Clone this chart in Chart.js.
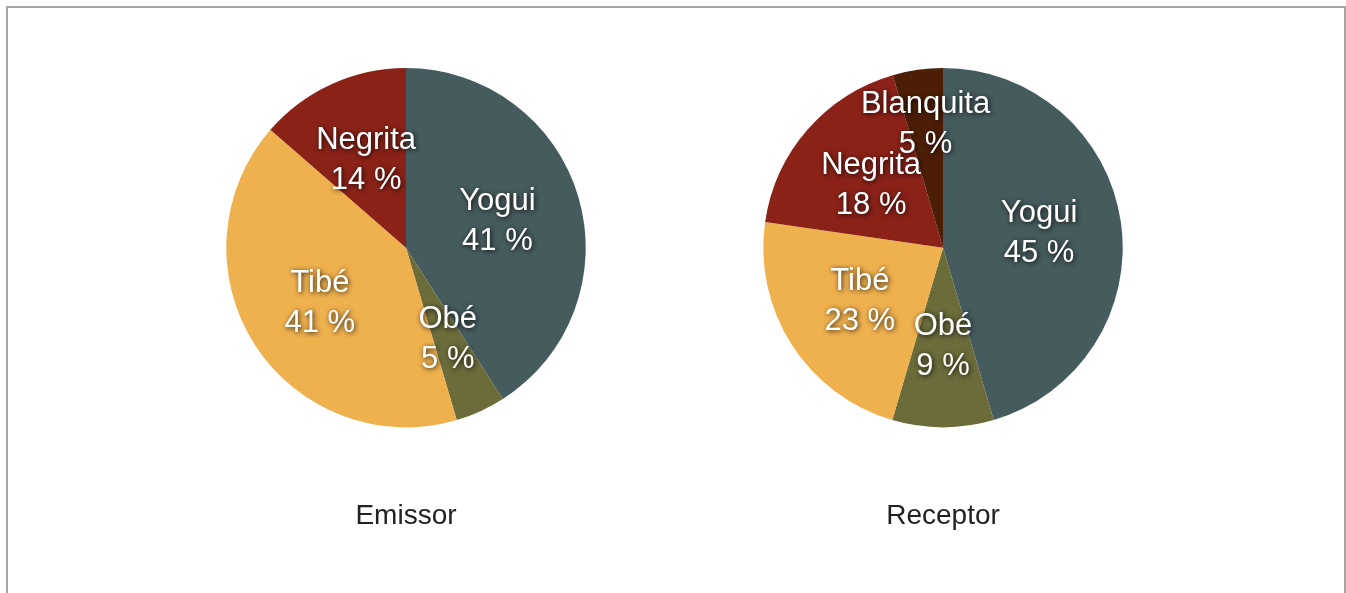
<!DOCTYPE html>
<html>
<head>
<meta charset="utf-8">
<script src="https://cdn.jsdelivr.net/npm/chart.js@4.4.1/dist/chart.umd.min.js"></script>
<style>
  html, body { margin: 0; padding: 0; background: #fff; overflow: hidden; }
  .frame {
    position: absolute; left: 6px; top: 6px; width: 1336px; height: 620px;
    border: 2px solid #a6a6a6; border-bottom: none; background: #fff;
  }
  .box { position: absolute; top: 48px; width: 400px; height: 512px; }
  #emissorBox { left: 206px; }
  #receptorBox { left: 743px; }
</style>
</head>
<body>
<div class="frame"></div>
<div class="box" id="emissorBox"><canvas id="emissor"></canvas></div>
<div class="box" id="receptorBox"><canvas id="receptor"></canvas></div>
<script>
// data (percent of total)
const categories = ['Yogui', 'Obé', 'Tibé', 'Negrita', 'Blanquita']
const emissorValues = [40.9, 4.5, 40.9, 13.6]
const receptorValues = [45.4, 9.1, 22.7, 18.2, 4.5]
const chartTitles = ['Emissor', 'Receptor']

const sliceColors = ['#465b5e', '#6b6c3a', '#efb04e', '#8a2218', '#4c1e06']
const FONT = '"Liberation Sans", Arial, Helvetica, sans-serif'

// draws "Name / NN %" inside every slice, white with a soft shadow
const sliceLabels = {
  id: 'sliceLabels',
  afterDatasetsDraw(chart, args, opts) {
    const ctx = chart.ctx
    const meta = chart.getDatasetMeta(0)
    const values = chart.data.datasets[0].data
    ctx.save()
    ctx.font = '31px ' + FONT
    ctx.fillStyle = '#fff'
    ctx.textAlign = 'center'
    ctx.textBaseline = 'middle'
    ctx.shadowColor = 'rgba(0,0,0,0.85)'
    ctx.shadowBlur = 5
    ctx.shadowOffsetX = 1
    ctx.shadowOffsetY = 1
    meta.data.forEach((arc, i) => {
      const p = arc.getProps(['x', 'y', 'startAngle', 'endAngle', 'outerRadius'], true)
      const mid = (p.startAngle + p.endAngle) / 2
      const f = (opts.dist && opts.dist[i]) || 0.55
      const x = p.x + Math.cos(mid) * p.outerRadius * f
      const y = p.y + Math.sin(mid) * p.outerRadius * f
      ctx.fillText(chart.data.labels[i], x, y - 20)
      ctx.fillText(Math.round(values[i]) + ' %', x, y + 20)
    })
    ctx.restore()
  }
}

function makePie(id, values, title, dist) {
  return new Chart(document.getElementById(id), {
    type: 'pie',
    data: {
      labels: categories.slice(0, values.length),
      datasets: [{
        data: values,
        backgroundColor: sliceColors.slice(0, values.length),
        borderWidth: 0
      }]
    },
    options: {
      responsive: true,
      maintainAspectRatio: false,
      animation: false,
      layout: { padding: { top: 20, bottom: 0, left: 0, right: 0 } },
      plugins: {
        legend: { display: false },
        tooltip: { enabled: false },
        title: {
          display: true,
          text: title,
          position: 'bottom',
          color: '#222',
          font: { family: FONT, size: 28, weight: 'normal', lineHeight: 1.2 },
          padding: { top: 72, bottom: 27 }
        },
        sliceLabels: { dist: dist }
      }
    },
    plugins: [sliceLabels]
  })
}

makePie('emissor', emissorValues, chartTitles[0], [0.53, 0.56, 0.57, 0.535])
makePie('receptor', receptorValues, chartTitles[1], [0.54, 0.55, 0.55, 0.53, 0.69])
</script>
</body>
</html>
